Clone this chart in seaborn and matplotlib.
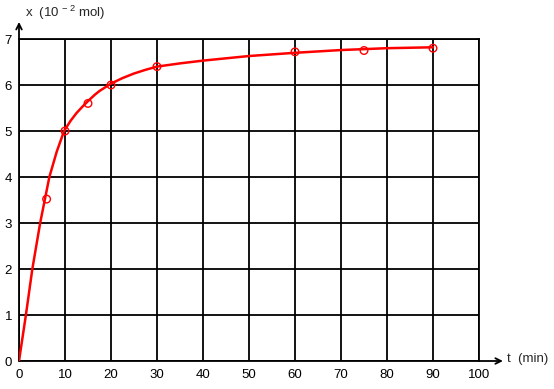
import matplotlib
matplotlib.use("Agg")
import matplotlib.pyplot as plt
import seaborn as sns
import pandas as pd

# measured points
t_points = [6, 10, 15, 20, 30, 60, 75, 90]
x_points = [3.52, 5.0, 5.6, 6.0, 6.4, 6.72, 6.75, 6.8]

# smooth curve readings
t_curve = [0, 1.5, 2.9, 4.6, 6.6, 8.2, 9.8, 11.2, 12.5, 13.8, 15, 16.5, 17.5, 20, 22.5, 25, 27.5, 30, 35, 40, 50, 60, 70, 80, 90]
x_curve = [0, 1.0, 2.0, 3.0, 4.0, 4.55, 5.0, 5.22, 5.39, 5.53, 5.65, 5.79, 5.87, 6.03, 6.15, 6.25, 6.33, 6.4, 6.47, 6.53, 6.63, 6.7, 6.76, 6.8, 6.82]

x_ticks = [0, 10, 20, 30, 40, 50, 60, 70, 80, 90, 100]
y_ticks = [0, 1, 2, 3, 4, 5, 6, 7]

sns.set_style("white")
plt.rcParams['font.family'] = ['Liberation Sans', 'DejaVu Sans']
plt.rcParams['mathtext.fontset'] = 'custom'
plt.rcParams['mathtext.rm'] = 'Liberation Sans'
plt.rcParams['mathtext.it'] = 'Liberation Sans'

W, H = 554, 389
fig = plt.figure(figsize=(W / 100, H / 100), dpi=100)
ax = fig.add_axes([19 / W, (H - 361) / H, 460 / W, 322 / H])

df_c = pd.DataFrame({"t": t_curve, "x": x_curve})
df_p = pd.DataFrame({"t": t_points, "x": x_points})

ax.set_xlim(0, 100)
ax.set_ylim(0, 7)
ax.set_xticks(x_ticks)
ax.set_yticks(y_ticks)
ax.grid(True, color='black', linewidth=1.3)
ax.set_axisbelow(True)
for s in ax.spines.values():
    s.set_color('black')
    s.set_linewidth(1.3)
ax.spines['left'].set_visible(False)
ax.spines['bottom'].set_visible(False)

sns.lineplot(data=df_c, x="t", y="x", ax=ax, color='red', linewidth=1.8, sort=True, zorder=4)
sns.scatterplot(data=df_p, x="t", y="x", ax=ax, marker='o', s=30, facecolors='none',
                edgecolor='red', linewidth=1.0, zorder=5)

ax.set_xlabel("")
ax.set_ylabel("")
ax.tick_params(axis='both', length=0, labelsize=9.5, colors='black', pad=6)
ax.tick_params(axis='y', pad=5)

# axes with arrows
ax.annotate("", xy=(1.052, 0), xytext=(0, 0), xycoords='axes fraction',
            arrowprops=dict(arrowstyle='->', color='black', lw=1.3, shrinkA=0, shrinkB=0),
            annotation_clip=False)
ax.annotate("", xy=(0, 1.053), xytext=(0, 0), xycoords='axes fraction',
            arrowprops=dict(arrowstyle='->', color='black', lw=1.3, shrinkA=0, shrinkB=0),
            annotation_clip=False)

fig.text(25 / W, 1 - 13 / H, "x  (10$^{\\,-\\,2}$ mol)", fontsize=9.5, ha='left', va='center')
fig.text(507 / W, 1 - 359 / H, "t  (min)", fontsize=9.5, ha='left', va='center')

fig.savefig("out.png", dpi=100)
